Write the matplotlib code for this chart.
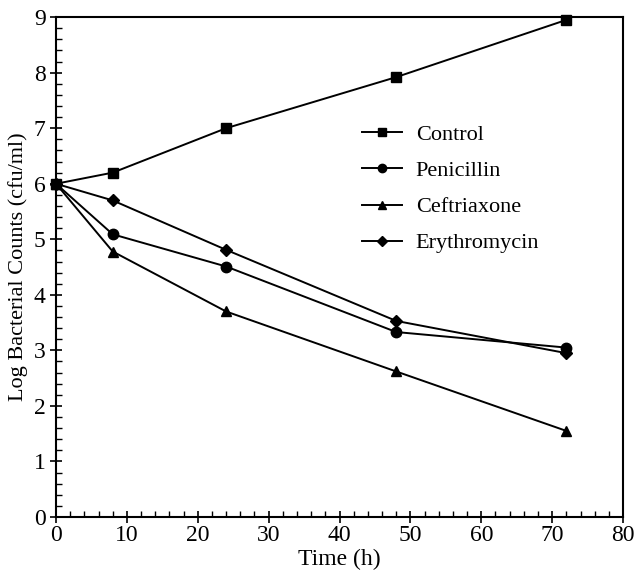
import matplotlib
matplotlib.use("Agg")
import matplotlib.pyplot as plt
from matplotlib.ticker import MultipleLocator

plt.rcParams['font.family'] = ['Liberation Serif', 'DejaVu Serif']

time_h = [0, 8, 24, 48, 72]
control = [6.0, 6.2, 7.0, 7.92, 8.95]
penicillin = [6.0, 5.09, 4.51, 3.33, 3.05]
ceftriaxone = [6.0, 4.78, 3.70, 2.62, 1.55]
erythromycin = [6.0, 5.70, 4.81, 3.53, 2.95]

series = [
    ("Control", control, "s", 7.5),
    ("Penicillin", penicillin, "o", 7.5),
    ("Ceftriaxone", ceftriaxone, "^", 7.5),
    ("Erythromycin", erythromycin, "D", 6),
]

fig = plt.figure(figsize=(6.35, 5.71), dpi=100)
ax = fig.add_axes([0.0882, 0.0946, 0.893, 0.8754])

for name, vals, mk, ms in series:
    ax.plot(time_h, vals, color="black", marker=mk, markersize=ms, linewidth=1.4,
            label=name, clip_on=False)

ax.set_xlim(0, 80)
ax.set_ylim(0, 9)
ax.xaxis.set_major_locator(MultipleLocator(10))
ax.xaxis.set_minor_locator(MultipleLocator(2))
ax.yaxis.set_major_locator(MultipleLocator(1))
ax.yaxis.set_minor_locator(MultipleLocator(0.2))
ax.tick_params(which="major", direction="inout", length=8, width=1.2, labelsize=17)
ax.tick_params(which="minor", direction="in", length=4, width=1)
ax.tick_params(axis="x", pad=2)
for s in ax.spines.values():
    s.set_linewidth(1.5)

ax.set_xlabel("Time (h)", fontsize=17, labelpad=2)
ax.set_ylabel("Log Bacterial Counts (cfu/ml)", fontsize=16, labelpad=4)

leg = ax.legend(loc="upper left", bbox_to_anchor=(0.505, 0.825), frameon=False,
                fontsize=16, handlelength=1.8, handletextpad=0.6, labelspacing=0.7,
                markerscale=0.8)

fig.savefig("out.png", dpi=100)
